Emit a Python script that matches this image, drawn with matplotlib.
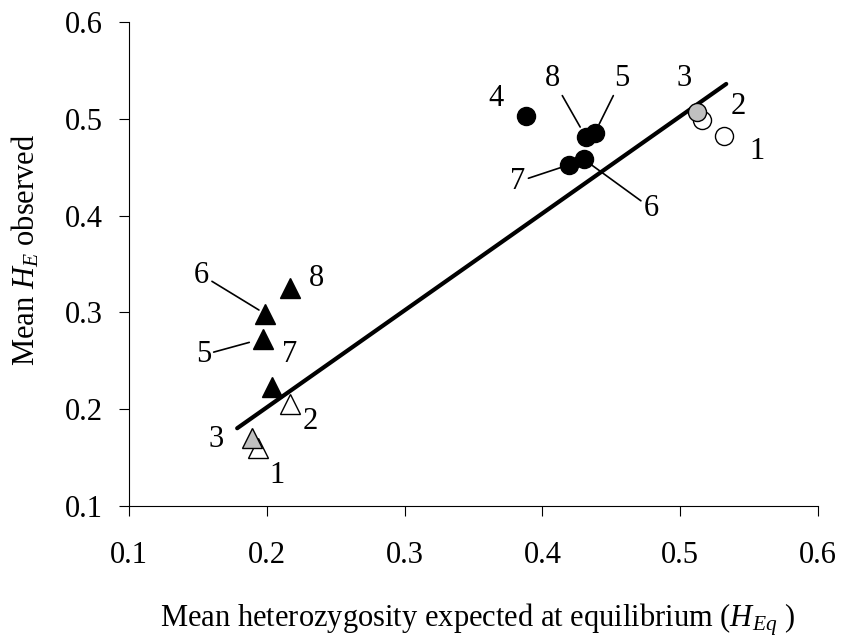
import matplotlib
matplotlib.use("Agg")
from matplotlib import pyplot as plt

plt.rcParams['font.family'] = 'Liberation Serif'
plt.rcParams['mathtext.fontset'] = 'custom'
plt.rcParams['mathtext.rm'] = 'Liberation Serif'
plt.rcParams['mathtext.it'] = 'Liberation Serif:italic'

# upper cluster (circles), populations 1-8
circ_pop = [1, 2, 3, 4, 5, 6, 7, 8]
circ_x = [0.5315, 0.516, 0.512, 0.3879, 0.4379, 0.430, 0.419, 0.4314]
circ_y = [0.4822, 0.4988, 0.5073, 0.5032, 0.485, 0.4582, 0.4523, 0.4815]

# lower cluster (triangles), no population 4
tri_pop = [1, 2, 3, 5, 6, 7, 8]
tri_x = [0.1938, 0.2168, 0.1894, 0.197, 0.1986, 0.2035, 0.2168]
tri_y = [0.1596, 0.2054, 0.170, 0.2728, 0.2987, 0.2232, 0.3249]

# fitted line end points
fit_x = [0.1785, 0.5334]
fit_y = [0.1803, 0.536]

ticks = [0.1, 0.2, 0.3, 0.4, 0.5, 0.6]

# where the number labels sit
circ_lab = {1: (0.5556, 0.466), 2: (0.5418, 0.5125), 3: (0.5032, 0.5418),
            4: (0.3666, 0.5212), 5: (0.4577, 0.5418), 6: (0.479, 0.4075),
            7: (0.3823, 0.435), 8: (0.4073, 0.5418)}
tri_lab = {1: (0.2071, 0.132), 2: (0.2313, 0.1871), 3: (0.1631, 0.1682),
           5: (0.1539, 0.256), 6: (0.1527, 0.3386), 7: (0.2168, 0.256),
           8: (0.2361, 0.3352)}
# labels joined to their point by a short line (value = gap at the point, pt)
circ_lead = {5: 7, 6: 7, 7: 6, 8: 8}
tri_lead = {5: 10, 6: 5}


def face(p):
    if p in (1, 2):
        return 'white'
    if p == 3:
        return '#c0c0c0'
    return 'black'


def zo(p):
    return {1: 3, 2: 3, 3: 4}.get(p, 5)


fig = plt.figure(figsize=(8.42, 6.43), dpi=100)
ax = fig.add_axes([0.1532, 0.2131, 0.8183, 0.7527])

ax.plot(fit_x, fit_y, color='black', lw=3, solid_capstyle='round', zorder=2)

for i in range(len(circ_pop)):
    p = circ_pop[i]
    ax.plot(circ_x[i], circ_y[i], 'o', ms=13, mfc=face(p), mec='black', mew=1, zorder=zo(p))
    tx, ty = circ_lab[p]
    if p in circ_lead:
        ax.annotate(str(p), xy=(circ_x[i], circ_y[i]), xytext=(tx, ty), fontsize=22,
                    ha='center', va='center',
                    arrowprops=dict(arrowstyle='-', color='black', lw=1.2,
                                    shrinkA=0, shrinkB=circ_lead[p]))
    else:
        ax.text(tx, ty, str(p), fontsize=22, ha='center', va='center')

for i in range(len(tri_pop)):
    p = tri_pop[i]
    ax.plot(tri_x[i], tri_y[i], '^', ms=14, mfc=face(p), mec='black', mew=1, zorder=zo(p))
    tx, ty = tri_lab[p]
    if p in tri_lead:
        ax.annotate(str(p), xy=(tri_x[i], tri_y[i]), xytext=(tx, ty), fontsize=22,
                    ha='center', va='center',
                    arrowprops=dict(arrowstyle='-', color='black', lw=1.2,
                                    shrinkA=0, shrinkB=tri_lead[p]))
    else:
        ax.text(tx, ty, str(p), fontsize=22, ha='center', va='center')

ax.set_xlim(0.1, 0.6)
ax.set_ylim(0.1, 0.6)
ax.set_xticks(ticks)
ax.set_yticks(ticks)
ax.set_xticklabels(['%.1f' % t for t in ticks])
ax.set_yticklabels(['%.1f' % t for t in ticks])
ax.spines['top'].set_visible(False)
ax.spines['right'].set_visible(False)
ax.spines['left'].set_linewidth(0.8)
ax.spines['bottom'].set_linewidth(0.8)
ax.tick_params(direction='out', length=7, width=0.8, labelsize=22)
ax.tick_params(axis='x', pad=18)
ax.tick_params(axis='y', pad=12)

fig.text(0.5665, 0.0254, 'Mean heterozygosity expected at equilibrium ($H_{Eq}$ )',
         fontsize=22, ha='center', va='baseline')
fig.text(0.03, 0.611, 'Mean $H_E$ observed', fontsize=22, rotation=90,
         ha='center', va='center')

fig.savefig('out.png', dpi=100)
